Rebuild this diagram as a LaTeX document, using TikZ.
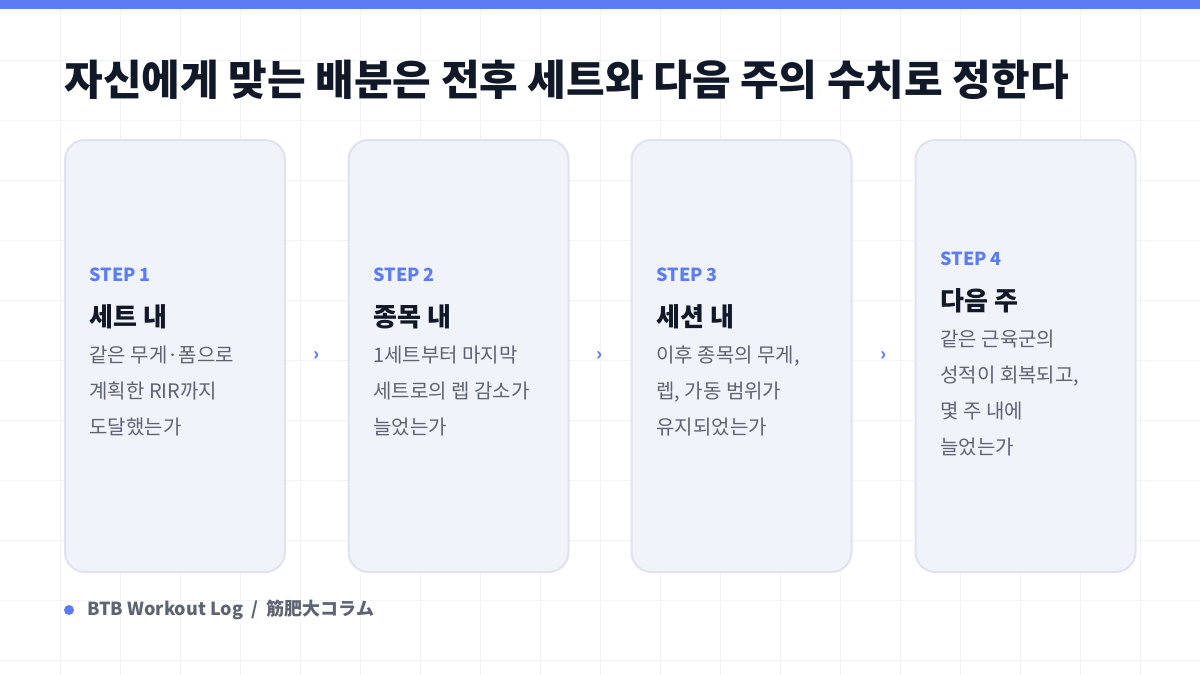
\documentclass[tikz,border=0pt]{standalone}
\usepackage{fontspec}
\setmainfont{Noto Sans CJK KR}
\newfontfamily\jpfont{Noto Sans CJK JP}
\usetikzlibrary{positioning,calc}
\definecolor{accent}{HTML}{5B7CF5}
\definecolor{cardfill}{HTML}{F1F3FB}
\definecolor{cardline}{HTML}{E0E3EE}
\definecolor{ink}{HTML}{111827}
\definecolor{muted}{HTML}{5F6472}
\definecolor{gridc}{HTML}{F3F4F7}
\tikzset{%
	card/.style    = {draw=cardline, line width=1pt, fill=cardfill, rounded corners=10pt, minimum width=110pt, minimum height=216pt, inner sep=0pt},
	steplbl/.style = {anchor=west, text=accent, font=\fontsize{9}{11}\selectfont\bfseries, inner sep=0pt},
	head/.style    = {anchor=north west, text=ink, font=\fontsize{13}{16}\selectfont\bfseries, inner sep=0pt},
	body/.style    = {anchor=north west, text=muted, align=left, font=\fontsize{10}{18}\selectfont, inner sep=0pt},
	chev/.style    = {text=accent, font=\fontsize{9}{9}\selectfont\bfseries},
}
\begin{document}
\begin{tikzpicture}[x=0.5pt,y=-0.5pt]
	\useasboundingbox (0,0) rectangle (1200,675);
	% grid
	\foreach \gx in {60,120,...,1140} \draw[gridc,line width=0.4pt] (\gx,9) -- (\gx,675);
	\foreach \gy in {60,120,...,660} \draw[gridc,line width=0.4pt] (0,\gy) -- (1200,\gy);
	\fill[accent] (0,0) rectangle (1200,9);
	\node[anchor=west, text=ink, inner sep=0pt, font=\fontsize{21}{24}\selectfont\bfseries] (title) at (64,80) {자신에게 맞는 배분은 전후 세트와 다음 주의 수치로 정한다};

	% cards
	\foreach \i/\cx in {1/175,2/458.5,3/741.5,4/1025.5}
		\node[card] (c\i) at (\cx,356) {};

	\node[steplbl] (s1) at (89,275) {STEP 1};
	\node[head, below=11pt of s1.south west, anchor=north west] (h1) {세트 내};
	\node[body, below=8pt of h1.south west, anchor=north west] (b1) {같은 무게·폼으로\\계획한 RIR까지\\도달했는가};

	\node[steplbl] (s2) at (373,275) {STEP 2};
	\node[head, below=11pt of s2.south west, anchor=north west] (h2) {종목 내};
	\node[body, below=8pt of h2.south west, anchor=north west] (b2) {1세트부터 마지막\\세트로의 렙 감소가\\늘었는가};

	\node[steplbl] (s3) at (656,275) {STEP 3};
	\node[head, below=11pt of s3.south west, anchor=north west] (h3) {세션 내};
	\node[body, below=8pt of h3.south west, anchor=north west] (b3) {이후 종목의 무게,\\렙, 가동 범위가\\유지되었는가};

	\node[steplbl] (s4) at (940,259) {STEP 4};
	\node[head, below=11pt of s4.south west, anchor=north west] (h4) {다음 주};
	\node[body, below=8pt of h4.south west, anchor=north west] (b4) {같은 근육군의\\성적이 회복되고,\\몇 주 내에\\늘었는가};

	% chevrons between cards
	\foreach \a/\b in {1/2,2/3,3/4}
		\node[chev] (ch\a) at ($(c\a.east)!0.5!(c\b.west)$) {›};

	% footer
	\fill[accent] (69,610) circle (5);
	\node[anchor=west, text=muted, inner sep=0pt, font=\fontsize{9}{11}\selectfont\bfseries] (foot) at (87,610) {BTB Workout Log \ / \ {\jpfont 筋肥大コラム}};
\end{tikzpicture}
\end{document}
